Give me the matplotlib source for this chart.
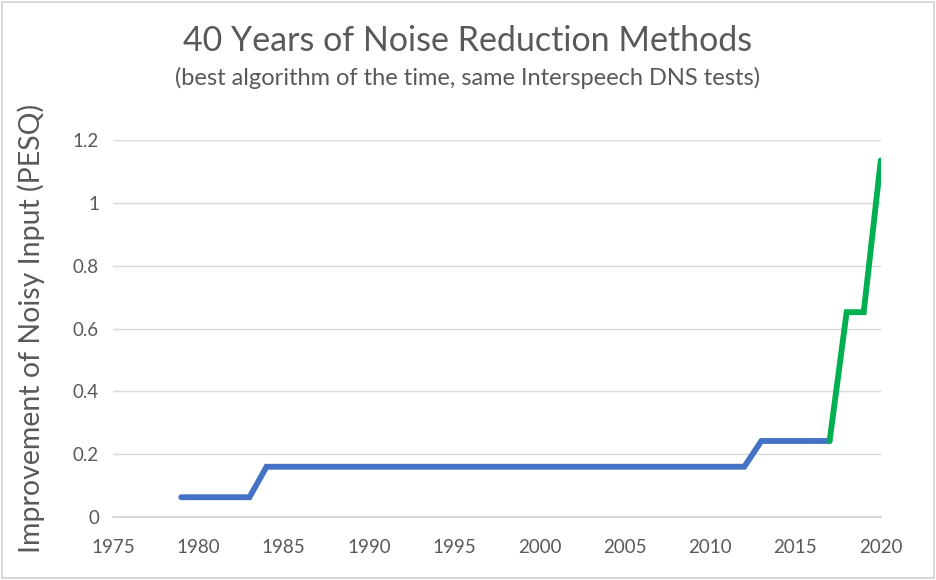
import matplotlib.pyplot as plt
from matplotlib.patches import Rectangle

# classic methods (blue) and deep-learning era (green)
classic_years = [1979, 1983, 1984, 2012, 2013, 2017]
classic_pesq = [0.063, 0.063, 0.16, 0.16, 0.242, 0.242]
dl_years = [2017, 2018, 2019, 2020]
dl_pesq = [0.242, 0.652, 0.652, 1.135]

x_ticks = list(range(1975, 2021, 5))
y_ticks = [0, 0.2, 0.4, 0.6, 0.8, 1, 1.2]
y_labels = ["0", "0.2", "0.4", "0.6", "0.8", "1", "1.2"]

TEXT = "#595959"
plt.rcParams["font.family"] = ["Lato", "DejaVu Sans"]

fig = plt.figure(figsize=(9.36, 5.8), dpi=100)
ax = fig.add_axes([0.1207, 0.1086, 0.8203, 0.65])

ax.plot(classic_years, classic_pesq, color="#4472c4", lw=4.2, solid_capstyle="round",
        solid_joinstyle="miter", zorder=3)
ax.plot(dl_years, dl_pesq, color="#00b050", lw=4.2, solid_capstyle="round",
        solid_joinstyle="miter", zorder=3)

ax.set_xlim(1975, 2020)
ax.set_ylim(0, 1.2)
ax.set_xticks(x_ticks)
ax.set_yticks(y_ticks)
ax.set_yticklabels(y_labels)
ax.tick_params(length=0, labelsize=13.5, colors=TEXT, pad=10)
ax.tick_params(axis="x", pad=16)
ax.grid(axis="y", color="#d9d9d9", lw=1)
ax.set_axisbelow(True)
for s in ["top", "right", "left"]:
    ax.spines[s].set_visible(False)
ax.spines["bottom"].set_color("#d0d0d0")
ax.spines["bottom"].set_linewidth(1.2)

ax.set_ylabel("Improvement of Noisy Input (PESQ)", fontsize=20.5, color=TEXT, labelpad=20)

fig.text(0.5, 0.930, "40 Years of Noise Reduction Methods", ha="center", va="center",
         fontsize=24.5, color=TEXT)
fig.text(0.5, 0.866, "(best algorithm of the time, same Interspeech DNS tests)",
         ha="center", va="center", fontsize=17, color=TEXT)

fig.patches.append(Rectangle((0.002, 0.003), 0.996, 0.994, transform=fig.transFigure,
                             fill=False, edgecolor="#d9d9d9", lw=1.5))

fig.savefig("out.png", dpi=100)
